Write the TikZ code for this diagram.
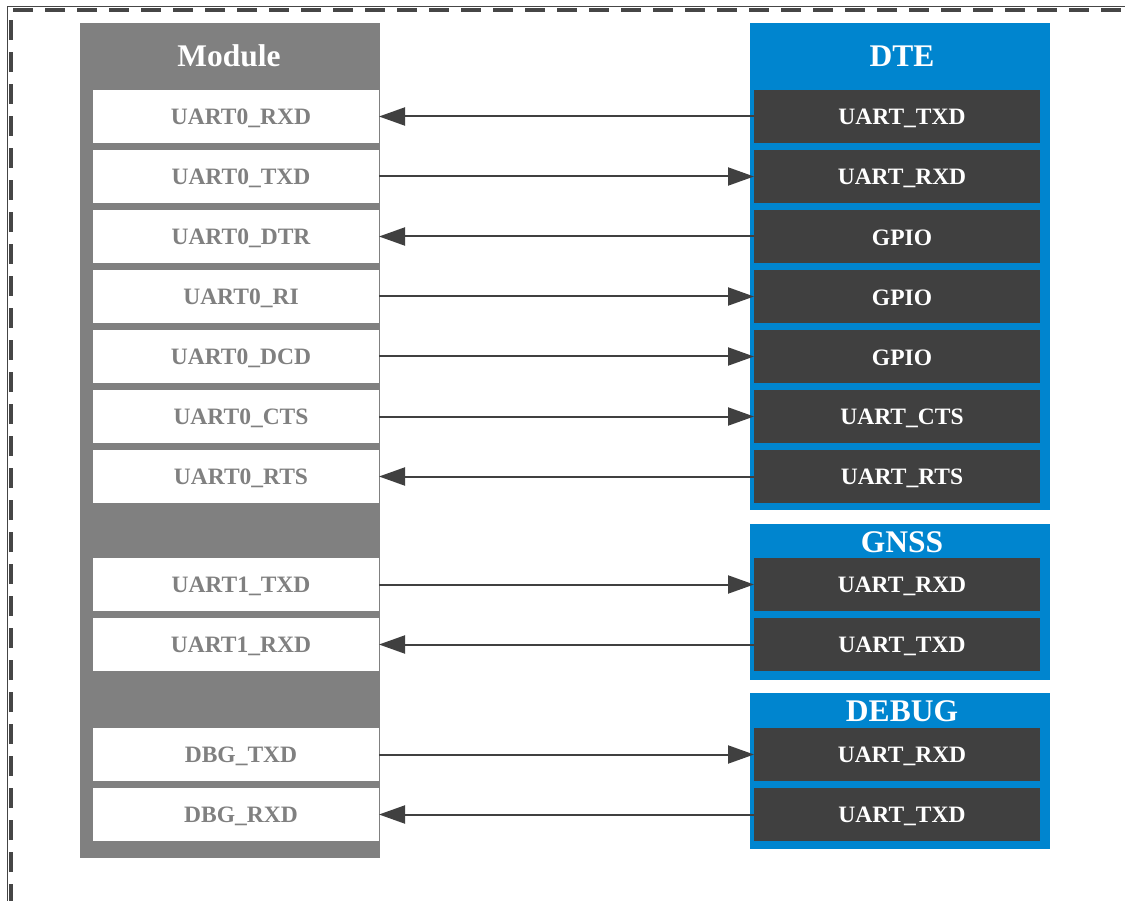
\documentclass[tikz,border=0pt]{standalone}
\usepackage{fontspec}
\setmainfont{Liberation Serif}
\usetikzlibrary{arrows.meta}
\definecolor{modgray}{RGB}{128,128,128}
\definecolor{cmblue}{RGB}{0,133,207}
\definecolor{darkrow}{RGB}{64,64,64}
\definecolor{framec}{RGB}{70,70,70}
\begin{document}
\begin{tikzpicture}[x=1pt,y=-1pt,
  panel/.style={inner sep=0pt,outer sep=0pt,anchor=north west},
  modrow/.style={fill=white,inner sep=0pt,outer sep=0pt,anchor=north west,minimum width=286pt,minimum height=53pt},
  dterow/.style={fill=darkrow,inner sep=0pt,outer sep=0pt,anchor=north west,minimum width=286pt,minimum height=53pt},
  hdr/.style={text=white,font=\fontsize{31.5}{36}\selectfont\bfseries,inner sep=0pt},
  modtxt/.style={text=modgray,font=\fontsize{23.5}{28}\selectfont\bfseries,inner sep=0pt},
  dtetxt/.style={text=white,font=\fontsize{23.5}{28}\selectfont\bfseries,inner sep=0pt},
  conn/.style={draw=darkrow,line width=2pt,-{Triangle[length=26pt,width=18pt]}}
]
\useasboundingbox (0,0) rectangle (1125,901);
% frame
\draw[framec,line width=1pt] (7.5,1000) -- (7.5,6.5) -- (1200,6.5);
\draw[framec,line width=3.5pt,dash pattern=on 20pt off 12pt] (11,1000) -- (11,10) -- (1200,10);
% panels
\node[panel,fill=modgray,minimum width=300pt,minimum height=835pt] (module) at (80,23) {};
\node[panel,fill=cmblue,minimum width=300pt,minimum height=487pt] (dte) at (750,23) {};
\node[panel,fill=cmblue,minimum width=300pt,minimum height=156pt] (gnss) at (750,524) {};
\node[panel,fill=cmblue,minimum width=300pt,minimum height=156pt] (debug) at (750,693) {};
% headers
\node[hdr] (modt) at (229,56) {Module};
\node[hdr] (dtet) at (902,56) {DTE};
\node[hdr] (gnsst) at (902,542) {GNSS};
\node[hdr] (debugt) at (902,711) {DEBUG};
% rows
\foreach \n/\y/\ml/\dl in {1/90/UART0\_RXD/UART\_TXD, 2/150/UART0\_TXD/UART\_RXD, 3/210/UART0\_DTR/GPIO,
  4/270/UART0\_RI/GPIO, 5/330/UART0\_DCD/GPIO, 6/390/UART0\_CTS/UART\_CTS, 7/450/UART0\_RTS/UART\_RTS,
  8/558/UART1\_TXD/UART\_RXD, 9/618/UART1\_RXD/UART\_TXD, 10/728/DBG\_TXD/UART\_RXD, 11/788/DBG\_RXD/UART\_TXD}{
  \node[modrow] (m\n) at (93,\y) {};
  \node[dterow] (d\n) at (754,\y) {};
  \node[modtxt] (mt\n) at ([xshift=5pt,yshift=-1.5pt]m\n.center) {\ml};
  \node[dtetxt] (dt\n) at ([xshift=5pt,yshift=-1.5pt]d\n.center) {\dl};
}
% connectors
\draw[conn] (d1.west) -- (m1.east);
\draw[conn] (m2.east) -- (d2.west);
\draw[conn] (d3.west) -- (m3.east);
\draw[conn] (m4.east) -- (d4.west);
\draw[conn] (m5.east) -- (d5.west);
\draw[conn] (m6.east) -- (d6.west);
\draw[conn] (d7.west) -- (m7.east);
\draw[conn] (m8.east) -- (d8.west);
\draw[conn] (d9.west) -- (m9.east);
\draw[conn] (m10.east) -- (d10.west);
\draw[conn] (d11.west) -- (m11.east);
\end{tikzpicture}
\end{document}
